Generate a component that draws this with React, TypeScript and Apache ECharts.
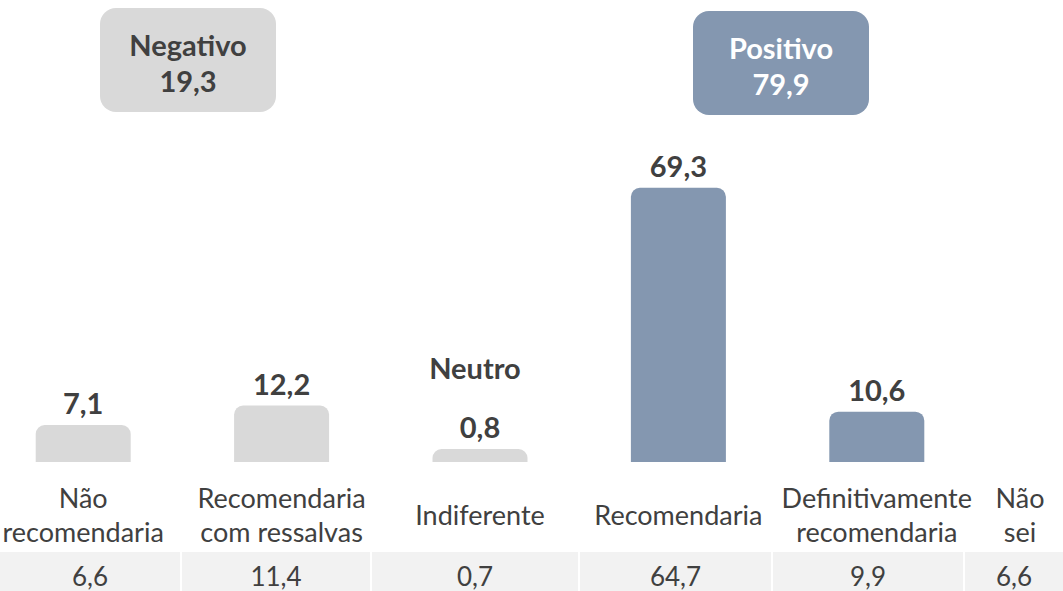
import React, { useEffect, useRef } from "react";
import * as echarts from "echarts";

const categories = ["Não\nrecomendaria", "Recomendaria\ncom ressalvas", "Indiferente", "Recomendaria", "Definitivamente\nrecomendaria"];
const extraCategory = "Não\nsei";
const barValues = [7.1, 12.2, 0.8, 69.3, 10.6];
const barGroups = ["neg", "neg", "neu", "pos", "pos"];
const tableValues = [6.6, 11.4, 0.7, 64.7, 9.9, 6.6];
const groupNames = ["Negativo", "Positivo"];
const groupValues = [19.3, 79.9];
const neutralName = "Neutro";

const GRAY = "#D9D9D9";
const BLUE = "#8497B0";
const TEXT = "#404040";
const FONT = "Lato";
const SHIFT = 16; // chart canvas starts 16px left of the page

const fmt = (v: number) => v.toFixed(1).replace(".", ",");

export default function App() {
  const ref = useRef<HTMLDivElement>(null);
  useEffect(() => {
    if (!ref.current) return;
    const chart = echarts.init(ref.current, null, { renderer: "svg" });
    const yMin = -2.6;
    const tableEdges = [0, 182, 372, 580, 773, 965, 1063];
    const graphics: any[] = [];
    tableValues.forEach((v, i) => {
      const x0 = tableEdges[i];
      const x1 = tableEdges[i + 1] - (i < tableValues.length - 1 ? 2 : 0);
      graphics.push({
        type: "rect",
        shape: { x: x0 + SHIFT, y: 552, width: x1 - x0, height: 39 },
        style: { fill: "#F2F2F2" },
        silent: true,
      });
      graphics.push({
        type: "text",
        x: (x0 + x1) / 2 + SHIFT,
        y: 576,
        style: { text: fmt(v), fill: TEXT, font: `26px ${FONT}`, align: "center", verticalAlign: "middle" },
      });
    });
    graphics.push({
      type: "text",
      x: 1020 + SHIFT,
      y: 514,
      style: { text: extraCategory, fill: TEXT, font: `27px ${FONT}`, align: "center", verticalAlign: "middle", lineHeight: 34 },
    });
    const boxes = [
      { x: 100, y: 8, fill: GRAY, color: TEXT },
      { x: 693, y: 11, fill: BLUE, color: "#FFFFFF" },
    ];
    groupNames.forEach((name, i) => {
      const b = boxes[i];
      graphics.push({
        type: "rect",
        shape: { x: b.x + SHIFT, y: b.y, width: 176, height: 104, r: 16 },
        style: { fill: b.fill },
      });
      graphics.push({
        type: "text",
        x: b.x + 88 + SHIFT,
        y: b.y + 54,
        style: {
          text: name + "\n" + fmt(groupValues[i]),
          fill: b.color,
          font: `bold 29px ${FONT}`,
          align: "center",
          verticalAlign: "middle",
          lineHeight: 36,
        },
      });
    });
    graphics.push({
      type: "text",
      x: 475 + SHIFT,
      y: 367,
      style: { text: neutralName, fill: TEXT, font: `bold 29px ${FONT}`, align: "center", verticalAlign: "middle" },
    });

    chart.setOption({
      animation: false,
      grid: { left: 0, right: 87, top: 147, bottom: 129, containLabel: false },
      xAxis: {
        type: "category",
        data: categories,
        axisLine: { show: false },
        axisTick: { show: false },
        axisLabel: {
          interval: 0,
          color: TEXT,
          fontFamily: FONT,
          fontSize: 27,
          lineHeight: 34,
          margin: 52,
          verticalAlign: "middle",
          hideOverlap: false,
        },
      },
      yAxis: { type: "value", min: yMin, max: 80, show: false, splitLine: { show: false } },
      graphic: graphics,
      series: [
        {
          type: "custom",
          data: barValues.map((v, i) => [i, v]),
          renderItem: (params: any, api: any) => {
            const idx = api.value(0);
            const v = api.value(1);
            const top = api.coord([idx, v]);
            const bottom = api.coord([idx, yMin]);
            const w = 95;
            const color = barGroups[params.dataIndex] === "pos" ? BLUE : GRAY;
            return {
              type: "group",
              children: [
                {
                  type: "rect",
                  shape: { x: top[0] - w / 2, y: top[1], width: w, height: bottom[1] - top[1], r: [9, 9, 0, 0] },
                  style: { fill: color },
                },
                {
                  type: "text",
                  x: top[0],
                  y: top[1] - 8,
                  style: {
                    text: fmt(v),
                    fill: TEXT,
                    font: `bold 29px ${FONT}`,
                    align: "center",
                    verticalAlign: "bottom",
                  },
                },
              ],
            };
          },
        },
      ],
    });
    return () => chart.dispose();
  }, []);
  return <div ref={ref} style={{ width: 1063 + SHIFT, height: 591, position: "absolute", left: -SHIFT, top: 0 }} />;
}
